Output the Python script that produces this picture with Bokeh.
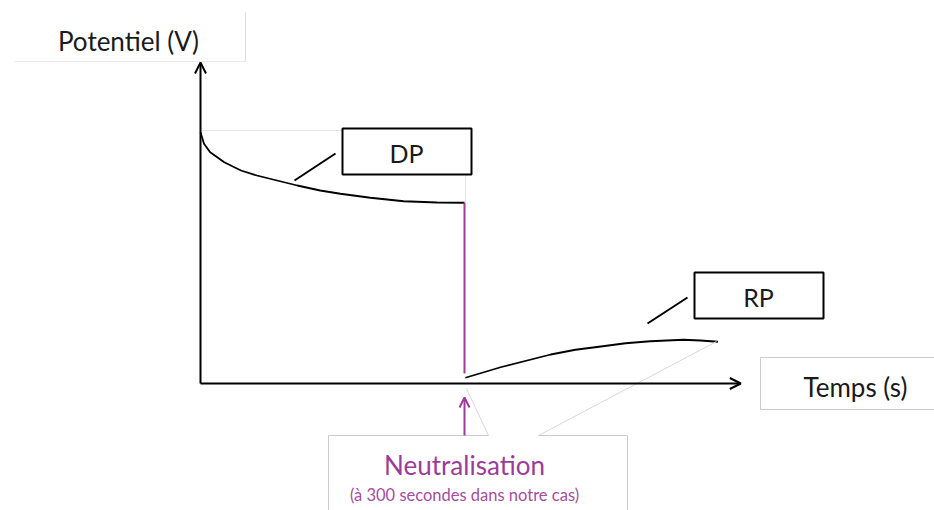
from bokeh.plotting import figure
from bokeh.models import Range1d, Arrow, OpenHead, Label
from bokeh.embed import file_html
from bokeh.resources import INLINE

# ---- data (time in s, potential in arbitrary V units) ----
dp_t = [0, 4, 11, 27, 46, 64, 87, 110, 136, 159, 193, 231, 269, 300]
dp_v = [1005, 959, 925, 885, 852, 832, 812, 792, 772, 759, 743, 729, 724, 723]
rp_t = [301, 341, 398, 426, 455, 483, 511, 549, 568, 588]
rp_v = [23, 65, 116, 135, 148, 161, 169, 175, 172, 167]
neut_t = 300
neut_v = [723, 40]
axis_t_max = 614
axis_v_max = 1284

PURPLE = "#9C3C9A"
FAINT = "#d9d9d9"
FONT = "Lato"

W, H = 934, 510

# layout helpers (pixel of the page -> data coords)
def X(px):
    return (px - 200) / 0.88

def Y(py):
    return (383 - py) * 4

p = figure(width=W, height=H, output_backend="svg", toolbar_location=None,
           x_range=Range1d(X(0), X(W)), y_range=Range1d(Y(H), Y(0)),
           min_border=0, tools="")
p.axis.visible = False
p.grid.visible = False
p.outline_line_color = None
p.background_fill_color = "white"

# faint bounding lines
p.line([X(200), X(342)], [Y(130), Y(130)], line_color="#e6e6e6", line_width=1)
p.line([X(465), X(465)], [Y(174), Y(202)], line_color="#e6e6e6", line_width=1)
p.line([X(14), X(245)], [Y(61), Y(61)], line_color="#ececec", line_width=1)
p.line([X(245), X(245)], [Y(11), Y(61)], line_color="#e0e0e0", line_width=1)

# axes with arrows
p.add_layout(Arrow(end=OpenHead(size=11, line_width=2, line_color="black"),
                   x_start=0, y_start=0, x_end=0, y_end=axis_v_max,
                   line_width=2, line_color="black"))
p.add_layout(Arrow(end=OpenHead(size=11, line_width=2, line_color="black"),
                   x_start=0, y_start=0, x_end=axis_t_max, y_end=0,
                   line_width=2, line_color="black"))

# curves
p.line(dp_t, dp_v, line_color="black", line_width=1.8, line_join="round")
p.line([neut_t, neut_t], neut_v, line_color=PURPLE, line_width=2)
p.line(rp_t, rp_v, line_color="black", line_width=1.8, line_join="round")

# callout wedge lines for neutralisation box
p.line([X(488), X(466)], [Y(435), Y(388)], line_color=FAINT, line_width=1)
p.line([X(538), X(716)], [Y(435), Y(341)], line_color=FAINT, line_width=1)
# neutralisation box edges
p.line([X(328), X(488)], [Y(435), Y(435)], line_color="#cccccc", line_width=1)
p.line([X(538), X(627)], [Y(435), Y(435)], line_color="#cccccc", line_width=1)
p.line([X(627), X(627)], [Y(435), Y(515)], line_color="#cccccc", line_width=1)
p.line([X(328), X(328)], [Y(435), Y(515)], line_color="#cccccc", line_width=1)

# purple arrow
p.add_layout(Arrow(end=OpenHead(size=10, line_width=2, line_color=PURPLE),
                   x_start=neut_t, y_start=Y(435), x_end=neut_t, y_end=Y(397),
                   line_width=2, line_color=PURPLE))

# DP / RP boxes
p.quad(left=X(342), right=X(471), top=Y(128), bottom=Y(174),
       fill_color="white", line_color="black", line_width=2)
p.quad(left=X(694), right=X(823), top=Y(272), bottom=Y(318),
       fill_color="white", line_color="black", line_width=2)
p.line([X(294), X(335)], [Y(180), Y(153)], line_color="black", line_width=2)
p.line([X(647), X(687)], [Y(323), Y(297)], line_color="black", line_width=2)

# Temps box
p.quad(left=X(760), right=X(940), top=Y(357), bottom=Y(409),
       fill_color="white", line_color="#cccccc", line_width=1)

def lab(px, py, text, size, color="#1a1a1a"):
    p.add_layout(Label(x=X(px), y=Y(py), text=text, text_font=FONT,
                       text_font_size=size, text_color=color,
                       text_align="center", text_baseline="middle"))

lab(128, 40, "Potentiel (V)", "26px")
lab(406, 152, "DP", "25px")
lab(758, 296, "RP", "25px")
lab(855, 386, "Temps (s)", "26px")
lab(464, 464, "Neutralisation", "26px", PURPLE)
lab(464, 494, "(à 300 secondes dans notre cas)", "16.5px", "#A34EA1")

open("out.html", "w").write(file_html(p, INLINE))
